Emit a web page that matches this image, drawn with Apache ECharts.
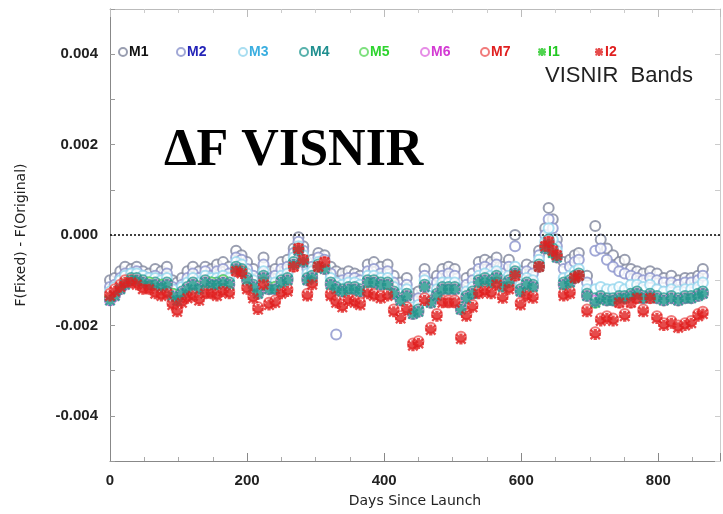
<!DOCTYPE html>
<html>
<head>
<meta charset="utf-8">
<script src="https://cdn.jsdelivr.net/npm/echarts@6/dist/echarts.min.js"></script>
<style>
  html, body { margin: 0; padding: 0; background: #fff; }
  #chart { width: 723px; height: 514px; }
</style>
</head>
<body>
<div id="chart"></div>
<script>
// values are in units of 1e-3 (axis labels divide by 1000)
var days = [0, 7, 15, 22, 31, 39, 48, 57, 66, 75, 83, 91, 98, 105, 113, 121, 130, 139, 148, 156,
  165, 174, 184, 192, 200, 209, 216, 224, 232, 241, 250, 259, 268, 275, 282, 288, 295, 304, 313, 322,
  330, 339, 348, 357, 365, 376, 385, 395, 405, 414, 424, 433, 442, 450, 459, 468, 477, 485, 494, 503,
  512, 520, 529, 538, 547, 556, 564, 573, 582, 591, 599, 608, 617, 626, 635, 640, 646, 652, 662, 671,
  678, 684, 696, 708, 716, 725, 734, 743, 751, 760, 769, 778, 788, 798, 808, 819, 829, 839, 848, 858, 865];

var m1 = [-1.0, -0.95, -0.8, -0.7, -0.75, -0.7, -0.8, -0.85, -0.75, -0.8, -0.7, -1.0, -1.05, -0.95, -0.8, -0.7, -0.8, -0.7, -0.75, -0.65,
  -0.6, -0.7, -0.35, -0.45, -0.6, -0.75, -0.95, -0.5, -0.8, -0.75, -0.6, -0.55, -0.3, -0.05, -0.25, -0.6, -0.55, -0.4, -0.45, -0.7,
  -0.8, -0.85, -0.8, -0.85, -0.9, -0.65, -0.6, -0.7, -0.65, -0.9, -1.05, -0.95, -1.3, -1.25, -0.75, -1.05, -0.9, -0.75, -0.7, -0.75,
  -1.2, -0.95, -0.85, -0.6, -0.55, -0.6, -0.5, -0.7, -0.55, 0.0, -0.8, -0.65, -0.7, -0.35, 0.15, 0.6, 0.35, -0.1, -0.6, -0.55,
  -0.45, -0.4, -0.9, 0.2, -0.1, -0.3, -0.45, -0.6, -0.55, -0.75, -0.8, -0.85, -0.8, -0.85, -0.95, -0.9, -1.0, -0.95, -0.95, -0.9, -0.75];

var m2 = [-1.15, -1.1, -0.95, -0.85, -0.85, -0.8, -0.9, -0.95, -0.9, -0.95, -0.85, -1.15, -1.2, -1.1, -0.95, -0.85, -0.95, -0.8, -0.9, -0.8,
  -0.75, -0.85, -0.5, -0.55, -0.75, -0.9, -1.1, -0.65, -0.95, -0.9, -0.75, -0.7, -0.4, -0.15, -0.35, -0.75, -0.7, -0.5, -0.55, -0.85,
  -2.2, -1.0, -0.95, -0.95, -1.0, -0.8, -0.75, -0.85, -0.8, -1.05, -1.2, -1.1, -1.45, -1.4, -0.9, -1.2, -1.05, -0.9, -0.85, -0.9,
  -1.35, -1.1, -1.0, -0.75, -0.7, -0.75, -0.65, -0.85, -0.7, -0.25, -0.95, -0.8, -0.85, -0.45, 0.0, 0.35, 0.15, -0.25, -0.75, -0.7,
  -0.6, -0.55, -1.05, -0.35, -0.3, -0.55, -0.7, -0.8, -0.85, -0.9, -0.95, -1.0, -0.95, -1.0, -1.05, -1.05, -1.1, -1.05, -1.05, -1.0, -0.9];

var m3 = [-1.25, -1.15, -1.0, -0.9, -0.85, -0.85, -0.9, -0.95, -0.95, -1.0, -0.95, -1.2, -1.3, -1.15, -1.05, -0.95, -1.05, -0.9, -0.95, -0.95,
  -0.9, -0.95, -0.6, -0.65, -0.85, -1.0, -1.15, -0.8, -1.05, -1.05, -0.9, -0.85, -0.5, -0.25, -0.45, -0.85, -0.8, -0.6, -0.65, -0.95,
  -1.05, -1.1, -1.05, -1.05, -1.1, -0.9, -0.9, -0.95, -0.95, -1.15, -1.3, -1.2, -1.6, -1.55, -1.0, -1.35, -1.2, -1.05, -1.05, -1.05,
  -1.5, -1.25, -1.15, -0.9, -0.85, -0.9, -0.8, -1.0, -0.9, -0.7, -1.1, -0.95, -1.0, -0.55, -0.15, 0.15, -0.1, -0.35, -0.95, -0.9,
  -0.8, -0.75, -1.2, -1.2, -1.15, -1.2, -1.2, -1.15, -1.2, -1.1, -1.1, -1.15, -1.1, -1.2, -1.25, -1.2, -1.25, -1.2, -1.2, -1.15, -1.05];

var m4 = [-1.4, -1.3, -1.15, -1.05, -0.95, -0.95, -1.0, -1.05, -1.05, -1.1, -1.05, -1.3, -1.4, -1.25, -1.15, -1.05, -1.15, -1.0, -1.05, -1.05,
  -1.0, -1.05, -0.7, -0.75, -0.95, -1.1, -1.25, -0.9, -1.15, -1.15, -1.0, -0.95, -0.6, -0.3, -0.55, -0.95, -0.9, -0.65, -0.7, -1.05,
  -1.15, -1.2, -1.15, -1.15, -1.2, -1.0, -1.0, -1.05, -1.05, -1.25, -1.4, -1.3, -1.7, -1.65, -1.1, -1.45, -1.3, -1.15, -1.15, -1.15,
  -1.6, -1.35, -1.25, -1.0, -0.95, -1.0, -0.9, -1.1, -1.0, -0.8, -1.2, -1.05, -1.1, -0.65, -0.25, -0.1, -0.3, -0.45, -1.05, -1.0,
  -0.9, -0.85, -1.3, -1.4, -1.35, -1.4, -1.4, -1.35, -1.35, -1.3, -1.25, -1.35, -1.3, -1.35, -1.4, -1.35, -1.4, -1.35, -1.35, -1.3, -1.25];

var m5 = [-1.4, -1.3, -1.2, -1.05, -1.0, -1.0, -1.05, -1.05, -1.1, -1.1, -1.1, -1.3, -1.45, -1.3, -1.2, -1.1, -1.15, -1.05, -1.05, -1.1,
  -1.0, -1.1, -0.75, -0.8, -1.0, -1.15, -1.3, -0.95, -1.2, -1.15, -1.05, -1.0, -0.65, -0.35, -0.6, -1.0, -0.95, -0.7, -0.75, -1.1,
  -1.2, -1.25, -1.2, -1.2, -1.25, -1.05, -1.05, -1.1, -1.1, -1.3, -1.45, -1.35, -1.75, -1.7, -1.15, -1.5, -1.35, -1.2, -1.2, -1.2,
  -1.65, -1.4, -1.3, -1.05, -1.0, -1.05, -0.95, -1.15, -1.05, -0.85, -1.25, -1.1, -1.15, -0.7, -0.3, -0.2, -0.4, -0.5, -1.1, -1.05,
  -0.95, -0.9, -1.35, -1.5, -1.4, -1.45, -1.45, -1.4, -1.4, -1.35, -1.3, -1.4, -1.35, -1.4, -1.45, -1.4, -1.45, -1.4, -1.4, -1.35, -1.3];

var m6 = [-1.45, -1.35, -1.2, -1.1, -1.0, -1.0, -1.05, -1.1, -1.1, -1.15, -1.1, -1.35, -1.45, -1.3, -1.2, -1.1, -1.2, -1.05, -1.1, -1.1,
  -1.05, -1.1, -0.75, -0.8, -1.0, -1.15, -1.3, -0.95, -1.2, -1.2, -1.05, -1.0, -0.65, -0.35, -0.6, -1.0, -0.95, -0.7, -0.75, -1.1,
  -1.2, -1.25, -1.2, -1.2, -1.25, -1.05, -1.05, -1.1, -1.1, -1.3, -1.45, -1.35, -1.75, -1.7, -1.15, -1.5, -1.35, -1.2, -1.2, -1.2,
  -1.65, -1.4, -1.3, -1.05, -1.0, -1.05, -0.95, -1.15, -1.05, -0.85, -1.25, -1.1, -1.15, -0.7, -0.3, -0.15, -0.35, -0.5, -1.1, -1.05,
  -0.95, -0.9, -1.35, -1.45, -1.4, -1.45, -1.45, -1.4, -1.4, -1.35, -1.3, -1.4, -1.35, -1.4, -1.45, -1.4, -1.45, -1.4, -1.4, -1.35, -1.3];

var m7 = [-1.3, -1.2, -1.1, -1.0, -1.0, -1.05, -1.15, -1.15, -1.25, -1.3, -1.25, -1.5, -1.65, -1.45, -1.35, -1.3, -1.4, -1.25, -1.25, -1.3,
  -1.2, -1.25, -0.8, -0.8, -1.15, -1.35, -1.6, -1.05, -1.5, -1.45, -1.25, -1.2, -0.7, -0.3, -0.55, -1.3, -1.05, -0.7, -0.6, -1.3,
  -1.45, -1.55, -1.4, -1.45, -1.5, -1.25, -1.3, -1.35, -1.3, -1.65, -1.8, -1.6, -2.4, -2.35, -1.4, -2.05, -1.75, -1.45, -1.45, -1.45,
  -2.25, -1.75, -1.55, -1.25, -1.2, -1.25, -1.05, -1.35, -1.15, -0.9, -1.5, -1.3, -1.35, -0.7, -0.25, -0.15, -0.35, -0.45, -1.3, -1.25,
  -0.95, -0.9, -1.65, -2.15, -1.85, -1.8, -1.85, -1.5, -1.75, -1.5, -1.4, -1.65, -1.4, -1.8, -1.95, -1.9, -2.0, -1.95, -1.9, -1.75, -1.7];

var i1 = [-1.45, -1.35, -1.2, -1.1, -1.0, -1.0, -1.05, -1.1, -1.1, -1.15, -1.1, -1.35, -1.45, -1.3, -1.2, -1.1, -1.2, -1.05, -1.1, -1.1,
  -1.05, -1.1, -0.75, -0.8, -1.0, -1.15, -1.3, -0.95, -1.2, -1.2, -1.05, -1.0, -0.65, -0.35, -0.6, -1.0, -0.95, -0.7, -0.75, -1.1,
  -1.2, -1.25, -1.2, -1.2, -1.25, -1.05, -1.05, -1.1, -1.1, -1.3, -1.45, -1.35, -1.75, -1.7, -1.15, -1.5, -1.35, -1.2, -1.2, -1.2,
  -1.65, -1.4, -1.3, -1.05, -1.0, -1.05, -0.95, -1.15, -1.05, -0.85, -1.25, -1.1, -1.15, -0.7, -0.3, -0.2, -0.4, -0.5, -1.1, -1.05,
  -0.95, -0.9, -1.35, -1.5, -1.4, -1.45, -1.45, -1.4, -1.4, -1.35, -1.3, -1.4, -1.35, -1.4, -1.45, -1.4, -1.45, -1.4, -1.4, -1.35, -1.3];

var i2 = [-1.35, -1.25, -1.15, -1.05, -1.05, -1.1, -1.2, -1.2, -1.3, -1.35, -1.3, -1.55, -1.7, -1.5, -1.4, -1.35, -1.45, -1.3, -1.3, -1.35,
  -1.25, -1.3, -0.8, -0.85, -1.2, -1.4, -1.65, -1.1, -1.55, -1.5, -1.3, -1.25, -0.7, -0.3, -0.55, -1.35, -1.1, -0.7, -0.6, -1.35,
  -1.5, -1.6, -1.45, -1.5, -1.55, -1.3, -1.35, -1.4, -1.35, -1.7, -1.85, -1.65, -2.45, -2.4, -1.45, -2.1, -1.8, -1.5, -1.5, -1.5,
  -2.3, -1.8, -1.6, -1.3, -1.25, -1.3, -1.1, -1.4, -1.2, -0.9, -1.55, -1.35, -1.4, -0.7, -0.25, -0.15, -0.35, -0.45, -1.35, -1.3,
  -0.95, -0.9, -1.7, -2.2, -1.9, -1.85, -1.9, -1.5, -1.8, -1.5, -1.4, -1.7, -1.4, -1.85, -2.0, -1.95, -2.05, -2.0, -1.95, -1.8, -1.75];

var yTicks = [-4, -2, 0, 2, 4];

var names = ['M1', 'M2', 'M3', 'M4', 'M5', 'M6', 'M7', 'I1', 'I2'];
var values = [m1, m2, m3, m4, m5, m6, m7, i1, i2];
var plotColors = ['#80869c', '#8a92cc', '#93d6ee', '#2e9d97', '#5ed85e', '#e070e0', '#ee5a5a', '#1e958a', '#e01e1e'];
var textColors = ['#111111', '#2424b8', '#3aaee0', '#1f8f8f', '#2ed42e', '#d33ad3', '#e02020', '#22c822', '#e02020'];
var legendLeft = [118, 176, 238, 299, 359, 420, 480, 538, 595];

var star = 'path://M3.5,0L6.5,0L6.5,10L3.5,10Z M0,3.5L10,3.5L10,6.5L0,6.5Z M1.5,0L10,8.5L8.5,10L0,1.5Z M8.5,0L10,1.5L1.5,10L0,8.5Z';

var series = names.map(function (n, k) {
  var isI = n.charAt(0) === 'I';
  var s = {
    name: n,
    type: 'scatter',
    data: days.map(function (d, j) { return [d, values[k][j]]; }),
    symbol: isI ? star : 'emptyCircle',
    symbolSize: isI ? 11 : 10,
    itemStyle: isI ? { color: plotColors[k] } : { color: plotColors[k], borderColor: plotColors[k], borderWidth: 1 },
    silent: true,
    z: 2 + k
  };
  if (k === 0) {
    s.markLine = {
      silent: true,
      symbol: 'none',
      label: { show: false },
      lineStyle: { color: '#000', type: [2, 2], width: 1.5 },
      data: [{ yAxis: 0 }]
    };
  }
  return s;
});

var legends = names.map(function (n, k) {
  var item = { name: n, textStyle: { color: textColors[k] } };
  if (n === 'I1') item.itemStyle = { color: '#22c822' };
  return {
    data: [item],
    left: legendLeft[k],
    top: 45,
    itemWidth: 8,
    itemHeight: 8,
    itemGap: 0,
    padding: 0,
    selectedMode: false,
    textStyle: { fontFamily: 'Liberation Sans', fontSize: 14, fontWeight: 'bold', padding: [0, 0, 0, -3] }
  };
});

var chart = echarts.init(document.getElementById('chart'));
chart.setOption({
  animation: false,
  backgroundColor: '#fff',
  grid: { left: 110, right: 3, top: 9, bottom: 53 },
  legend: legends,
  xAxis: [{
    type: 'value',
    min: 0,
    max: 890,
    interval: 200,
    name: 'Days Since Launch',
    nameLocation: 'middle',
    nameGap: 33,
    nameTextStyle: { fontFamily: 'DejaVu Sans', fontSize: 14, color: '#222' },
    axisLine: { onZero: false, lineStyle: { color: '#888' } },
    axisTick: { inside: true, length: 8, lineStyle: { color: '#888' } },
    minorTick: { show: true, splitNumber: 4, length: 4, lineStyle: { color: '#aaa' } },
    axisLabel: { fontFamily: 'Liberation Sans', fontSize: 15, fontWeight: 'bold', color: '#222', margin: 12, showMaxLabel: false },
    splitLine: { show: false }
  }, {
    type: 'value',
    position: 'top',
    min: 0,
    max: 890,
    interval: 200,
    axisLine: { show: true, onZero: false, lineStyle: { color: '#bbb' } },
    axisTick: { inside: true, length: 8, lineStyle: { color: '#bbb' } },
    minorTick: { show: true, splitNumber: 4, length: 4, lineStyle: { color: '#ccc' } },
    axisLabel: { show: false },
    splitLine: { show: false }
  }],
  yAxis: [{
    type: 'value',
    min: -5,
    max: 5,
    interval: 1,
    name: 'F(Fixed) - F(Original)',
    nameLocation: 'middle',
    nameGap: 82,
    nameTextStyle: { fontFamily: 'DejaVu Sans', fontSize: 14, color: '#222' },
    axisLine: { show: true, onZero: false, lineStyle: { color: '#888' } },
    axisTick: { inside: true, length: 5, lineStyle: { color: '#999' } },
    axisLabel: {
      fontFamily: 'Liberation Sans', fontSize: 15, fontWeight: 'bold', color: '#222', margin: 12,
      formatter: function (v) {
        return yTicks.indexOf(v) >= 0 ? (v / 1000).toFixed(3) : '';
      }
    },
    splitLine: { show: false }
  }, {
    type: 'value',
    position: 'right',
    min: -5,
    max: 5,
    interval: 1,
    axisLine: { show: true, onZero: false, lineStyle: { color: '#ccc' } },
    axisTick: { inside: true, length: 5, lineStyle: { color: '#ccc' } },
    axisLabel: { show: false },
    splitLine: { show: false }
  }],
  graphic: [{
    type: 'text',
    left: 164,
    top: 126,
    style: { text: 'ΔF VISNIR', font: 'bold 52px "Liberation Serif"', fill: '#000' }
  }, {
    type: 'text',
    left: 545,
    top: 65,
    style: { text: 'VISNIR  Bands', font: '22px "Liberation Sans"', fill: '#222' }
  }],
  series: series
});
</script>
</body>
</html>
